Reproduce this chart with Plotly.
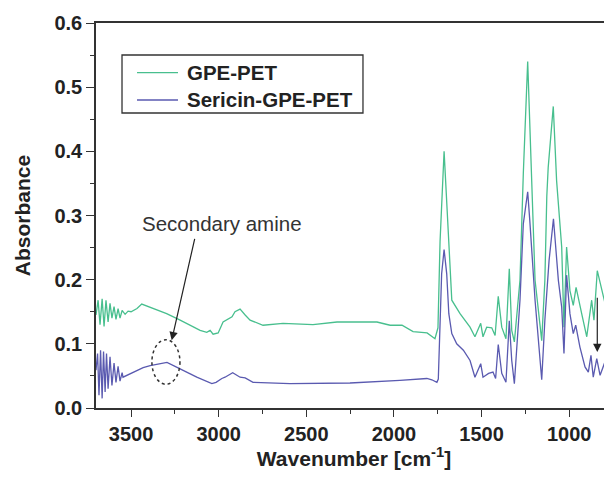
import plotly.graph_objects as go

# ---------------- data ----------------
wn_gpe = [3700, 3688, 3677, 3665, 3654, 3643, 3631, 3620, 3609, 3597, 3586, 3574, 3563, 3551,
          3534, 3517, 3500, 3466, 3439, 3420, 3363, 3297, 3220, 3163, 3106, 3068, 3049, 3032,
          3003, 2975, 2947, 2924, 2907, 2878, 2849, 2821, 2747, 2633, 2462, 2325, 2097, 2022,
          1954, 1891, 1811, 1766, 1749, 1737, 1714, 1690, 1670, 1623, 1566, 1538, 1505, 1492,
          1471, 1442, 1423, 1405, 1385, 1361, 1342, 1328, 1313, 1281, 1271, 1262, 1237, 1214,
          1195, 1157, 1139, 1128, 1120, 1091, 1072, 1043, 1030, 1015, 996, 977, 961, 929,
          900, 872, 859, 840, 815, 794, 758]
abs_gpe = [0.145, 0.168, 0.130, 0.170, 0.127, 0.168, 0.134, 0.163, 0.140, 0.158, 0.138, 0.155, 0.140, 0.152,
           0.146, 0.151, 0.150, 0.155, 0.162, 0.160, 0.155, 0.147, 0.137, 0.129, 0.121, 0.118, 0.121, 0.115,
           0.117, 0.134, 0.138, 0.142, 0.150, 0.154, 0.145, 0.137, 0.129, 0.132, 0.130, 0.134, 0.134, 0.129,
           0.129, 0.119, 0.117, 0.108, 0.125, 0.260, 0.400, 0.260, 0.168, 0.147, 0.126, 0.111, 0.132, 0.111,
           0.126, 0.125, 0.113, 0.174, 0.126, 0.108, 0.217, 0.121, 0.103, 0.199, 0.292, 0.365, 0.540, 0.365,
           0.199, 0.105, 0.199, 0.330, 0.375, 0.470, 0.354, 0.251, 0.126, 0.251, 0.183, 0.160, 0.188, 0.147,
           0.111, 0.168, 0.137, 0.214, 0.183, 0.161, 0.126]

wn_ser = [3700, 3691, 3683, 3674, 3665, 3657, 3648, 3640, 3631, 3620, 3609, 3597, 3586, 3574,
          3563, 3551, 3546, 3517, 3489, 3431, 3391, 3325, 3295, 3220, 3125, 3039, 3015, 2982,
          2964, 2920, 2878, 2849, 2804, 2593, 2251, 1966, 1909, 1852, 1812, 1784, 1755, 1747,
          1728, 1714, 1699, 1687, 1670, 1642, 1604, 1566, 1538, 1505, 1492, 1460, 1435, 1420,
          1405, 1385, 1361, 1342, 1328, 1313, 1281, 1262, 1237, 1225, 1195, 1157, 1139, 1115,
          1090, 1062, 1043, 1030, 1015, 996, 977, 963, 939, 910, 891, 876, 863, 843,
          824, 796, 758]
abs_ser = [0.059, 0.085, 0.020, 0.090, 0.015, 0.088, 0.025, 0.085, 0.030, 0.080, 0.035, 0.070, 0.040, 0.065,
           0.042, 0.055, 0.048, 0.052, 0.056, 0.063, 0.066, 0.069, 0.071, 0.061, 0.048, 0.038, 0.040, 0.046,
           0.048, 0.055, 0.048, 0.047, 0.040, 0.038, 0.039, 0.043, 0.044, 0.046, 0.046, 0.044, 0.040, 0.045,
           0.209, 0.247, 0.209, 0.147, 0.116, 0.100, 0.090, 0.074, 0.048, 0.069, 0.048, 0.054, 0.056, 0.046,
           0.099, 0.054, 0.040, 0.136, 0.074, 0.038, 0.168, 0.287, 0.337, 0.292, 0.168, 0.044, 0.137, 0.230,
           0.295, 0.199, 0.157, 0.085, 0.207, 0.147, 0.116, 0.129, 0.095, 0.064, 0.056, 0.082, 0.048, 0.077,
           0.051, 0.072, 0.051]

series_names = ["GPE-PET", "Sericin-GPE-PET"]
x_ticks = [3500, 3000, 2500, 2000, 1500, 1000]
y_ticks = [0.0, 0.1, 0.2, 0.3, 0.4, 0.5, 0.6]

GREEN = "#48BF8E"
BLUE = "#5A5AB0"
AXIS = "#333333"
FONT = "Liberation Sans, Arial, sans-serif"

fig = go.Figure()
fig.add_trace(go.Scatter(x=wn_gpe, y=abs_gpe, mode="lines", name=series_names[0],
                         line=dict(color=GREEN, width=1.3)))
fig.add_trace(go.Scatter(x=wn_ser, y=abs_ser, mode="lines", name=series_names[1],
                         line=dict(color=BLUE, width=1.3)))

# the page body has an 8px margin, so the figure is sized to fit the 612x478 window
fig.update_layout(
    width=604, height=462,
    margin=dict(l=88, r=0, t=15, b=62),
    paper_bgcolor="white", plot_bgcolor="white",
    font=dict(family=FONT, color="#222"),
    showlegend=False,
    xaxis=dict(range=[3700, 756], tickvals=x_ticks, ticks="outside", ticklen=7,
               tickwidth=1.3, tickcolor=AXIS, showline=True, linecolor=AXIS, linewidth=1.5,
               mirror=True, showgrid=False, zeroline=False, automargin=False,
               tickfont=dict(family=FONT, size=20, weight="bold", color="#222"),
               minor=dict(tick0=0, dtick=250, ticks="outside", ticklen=4, tickcolor=AXIS, tickwidth=1.3),
               title=dict(text="Wavenumber [cm<sup>-1</sup>]", standoff=6,
                          font=dict(family=FONT, size=21, weight="bold", color="#222"))),
    yaxis=dict(range=[0, 0.6], tickvals=y_ticks, tickformat=".1f", ticks="outside", ticklen=8,
               tickwidth=1.3, tickcolor=AXIS, showline=True, linecolor=AXIS, linewidth=1.5,
               mirror=False, showgrid=False, zeroline=False, automargin=False,
               tickfont=dict(family=FONT, size=20, weight="bold", color="#222"),
               minor=dict(tick0=0, dtick=0.05, ticks="outside", ticklen=4, tickcolor=AXIS, tickwidth=1.3),
               title=dict(text="Absorbance", standoff=18,
                          font=dict(family=FONT, size=21, weight="bold", color="#222"))),
)

# ---- legend box (drawn in paper coordinates) ----
fig.add_shape(type="rect", xref="paper", yref="paper", x0=0.0504, x1=0.5174, y0=0.7662, y1=0.9169,
              line=dict(color=AXIS, width=1.3), fillcolor="white", layer="above")
legend_rows = [(0.8710, GREEN), (0.8000, BLUE)]
for name, (ly, col) in zip(series_names, legend_rows):
    fig.add_shape(type="line", xref="paper", yref="paper", x0=0.0795, x1=0.1589, y0=ly, y1=ly,
                  line=dict(color=col, width=1.3), layer="above")
    fig.add_annotation(x=0.1725, y=ly, xref="paper", yref="paper", xanchor="left", yanchor="middle",
                       text=name, showarrow=False,
                       font=dict(family=FONT, size=20.5, weight="bold", color="#222"))

# ---- annotations ----
fig.add_shape(type="circle", xref="x", yref="y", x0=3381, x1=3221, y0=0.037, y1=0.1064,
              line=dict(color=AXIS, width=1.5, dash="dot"))

fig.add_annotation(x=2981, y=0.288, xref="x", yref="y", text="Secondary amine",
                   showarrow=False, font=dict(family=FONT, size=20.5, color="#333"))
fig.add_annotation(x=3268, y=0.1055, ax=3135, ay=0.266, xref="x", yref="y", axref="x", ayref="y",
                   text="", showarrow=True, arrowhead=2, arrowsize=1.4, arrowwidth=1.2,
                   arrowcolor="#222", standoff=0)
fig.add_annotation(x=840, y=0.0872, ax=840, ay=0.174, xref="x", yref="y", axref="x", ayref="y",
                   text="", showarrow=True, arrowhead=2, arrowsize=1.4, arrowwidth=1.2,
                   arrowcolor="#222", standoff=0)

fig.write_html("out.html")
